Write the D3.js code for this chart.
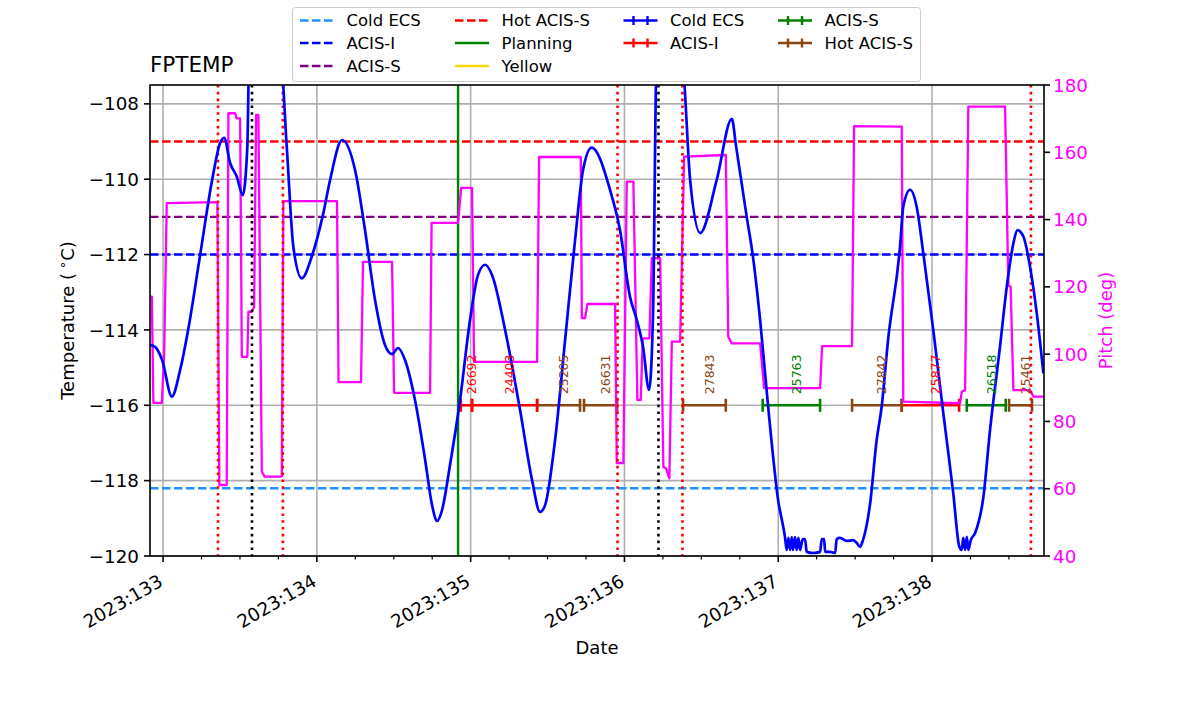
<!DOCTYPE html>
<html>
<head>
<meta charset="utf-8">
<script src="https://cdn.jsdelivr.net/npm/d3@7"></script>
<style>
  body { margin: 0; background: #fff; }
  svg { font-family: "DejaVu Sans", sans-serif; }
</style>
</head>
<body>
<svg width="1200" height="714"></svg>
<script>

// FPTEMP model (day of year 2023, deg C)
const tempTimes = [
    132.915, 132.948, 132.994, 133.057, 133.111, 133.163, 133.241, 133.319, 133.371, 133.397,
    133.436, 133.479, 133.518, 133.548, 133.559, 133.767, 133.804, 133.847, 133.902, 133.967,
    134.042, 134.086, 134.164, 134.248, 134.313, 134.378, 134.443, 134.489, 134.528, 134.573,
    134.638, 134.704, 134.749, 134.782, 134.814, 134.866, 134.931, 134.996, 135.048, 135.094,
    135.139, 135.224, 135.321, 135.399, 135.451, 135.484, 135.549, 135.614, 135.679, 135.731,
    135.787, 135.906, 135.971, 136.036, 136.080, 136.121, 136.160, 136.186, 136.209, 136.375,
    136.427, 136.492, 136.600, 136.698, 136.726, 136.795, 136.834, 136.882, 136.934, 136.999,
    137.044, 137.055, 137.066, 137.077, 137.088, 137.096, 137.109, 137.120, 137.131, 137.142,
    137.159, 137.174, 137.185, 137.226, 137.272, 137.283, 137.298, 137.305, 137.337, 137.370,
    137.380, 137.402, 137.445, 137.486, 137.510, 137.531, 137.551, 137.596, 137.640, 137.673,
    137.714, 137.792, 137.813, 137.857, 137.900, 137.943, 138.008, 138.073, 138.138, 138.177,
    138.193, 138.203, 138.215, 138.226, 138.236, 138.252, 138.280, 138.334, 138.377, 138.442,
    138.486, 138.529, 138.555, 138.594, 138.637, 138.681, 138.724
];
const tempValues = [
    -114.40, -114.45, -114.80, -115.77, -115.06, -114.00, -112.01, -110.02, -109.04, -108.90,
    -109.57, -109.93, -110.42, -109.13, -107.00, -107.00, -109.13, -111.79, -112.63, -112.05,
    -110.90, -110.02, -108.96, -109.75, -111.35, -113.20, -114.40, -114.64, -114.48, -114.80,
    -115.86, -117.45, -118.65, -119.07, -118.78, -117.58, -115.86, -113.73, -112.54, -112.27,
    -112.54, -114.00, -116.12, -117.98, -118.83, -118.65, -116.92, -114.27, -111.61, -109.75,
    -109.16, -110.28, -111.35, -113.12, -113.73, -114.45, -115.59, -113.55, -107.00, -107.00,
    -110.02, -111.43, -110.02, -108.40, -109.13, -111.00, -112.01, -113.73, -116.02, -118.51,
    -119.50, -119.84, -119.52, -119.84, -119.50, -119.84, -119.50, -119.84, -119.52, -119.84,
    -119.55, -119.55, -119.89, -119.92, -119.89, -119.55, -119.55, -119.89, -119.89, -119.92,
    -119.55, -119.52, -119.60, -119.58, -119.65, -119.76, -119.58, -118.65, -116.92, -116.02,
    -114.27, -111.79, -110.73, -110.28, -110.73, -111.96, -114.00, -116.20, -118.33, -119.75,
    -119.84, -119.52, -119.84, -119.49, -119.84, -119.58, -119.39, -118.43, -116.66, -114.44,
    -112.85, -111.70, -111.35, -111.52, -112.32, -113.56, -115.15
];

// pitch (deg)
const pitchTimes = [
    132.915, 132.927, 132.937, 132.992, 133.007, 133.024, 133.353, 133.366, 133.414, 133.425,
    133.468, 133.479, 133.501, 133.512, 133.548, 133.555, 133.577, 133.592, 133.605, 133.620,
    133.642, 133.660, 133.772, 133.782, 134.131, 134.141, 134.287, 134.300, 134.489, 134.502,
    134.736, 134.746, 134.918, 134.938, 135.009, 135.022, 135.432, 135.445, 135.716, 135.723,
    135.744, 135.759, 135.939, 135.950, 135.993, 136.015, 136.058, 136.084, 136.106, 136.119,
    136.162, 136.178, 136.232, 136.253, 136.271, 136.292, 136.308, 136.362, 136.388, 136.659,
    136.675, 136.698, 136.882, 136.908, 137.272, 137.285, 137.480, 137.493, 137.803, 137.813,
    138.182, 138.193, 138.215, 138.236, 138.475, 138.496, 138.511, 138.529, 138.637, 138.659,
    138.728
];
const pitchValues = [
    117.1, 117.1, 85.5, 85.5, 100.0, 144.9, 145.2, 61.1, 61.1, 171.6,
    171.6, 170.1, 170.1, 99.2, 99.2, 112.6, 112.6, 114.0, 171.1, 171.1,
    65.1, 63.6, 63.6, 145.5, 145.5, 91.7, 91.7, 127.4, 127.4, 88.5,
    88.5, 139.0, 139.0, 149.4, 149.4, 97.7, 97.7, 158.6, 158.6, 110.7,
    110.7, 114.9, 114.9, 67.6, 67.6, 151.3, 151.3, 86.4, 86.4, 104.7,
    104.7, 128.5, 128.5, 66.5, 66.0, 63.1, 103.7, 103.7, 158.7, 159.2,
    105.2, 103.2, 103.2, 89.9, 89.9, 102.4, 102.4, 167.8, 167.6, 85.9,
    85.4, 88.8, 89.3, 173.6, 173.6, 120.6, 120.0, 89.3, 89.3, 87.4,
    87.4
];

// limit lines
const limitNames = ['Cold ECS', 'ACIS-I', 'ACIS-S', 'Hot ACIS-S'];
const limitValues = [-118.2, -112, -111, -109];
const limitColors = ['dodgerblue', 'blue', 'purple', 'red'];
const planningLimit = 134.918;

// vertical markers
const radZoneTimes = [133.357, 133.779, 135.955, 136.377, 138.643];
const perigeeTimes = [133.578, 136.221];

// obsids along -116
const obsidLabels = ['26692', '24403', '25205', '26631', '27843', '25763', '27842', '25877', '26518', '25461'];
const obsidStart = [134.936, 135.009, 135.432, 135.737, 136.381, 136.899, 137.480, 137.803, 138.226, 138.501];
const obsidStop  = [135.009, 135.432, 135.711, 135.952, 136.659, 137.272, 137.803, 138.176, 138.479, 138.650];
const obsidKind  = ['ACIS-I', 'ACIS-I', 'Hot ACIS-S', 'Hot ACIS-S', 'Hot ACIS-S', 'ACIS-S', 'Hot ACIS-S', 'ACIS-I', 'ACIS-S', 'Hot ACIS-S'];
const obsidLevel = -116;

const kindColor = {'Cold ECS': 'blue', 'ACIS-I': 'red', 'ACIS-S': 'green', 'Hot ACIS-S': 'saddlebrown'};

const days = [133, 134, 135, 136, 137, 138];
const tempTicks = [-120, -118, -116, -114, -112, -110, -108];
const pitchTicks = [40, 60, 80, 100, 120, 140, 160, 180];

const svg = d3.select('svg');
const L = 150, R = 1044, T = 85, B = 556;

const x = d3.scaleLinear().domain([132.915, 138.728]).range([L, R]);
const y = d3.scaleLinear().domain([-120, -107.5]).range([B, T]);
const y2 = d3.scaleLinear().domain([40, 180]).range([B, T]);

svg.append('clipPath').attr('id', 'plot')
    .append('rect').attr('x', L).attr('y', T).attr('width', R - L).attr('height', B - T);

// grid
const grid = svg.append('g').attr('stroke', '#b0b0b0').attr('stroke-width', 1.6);
grid.selectAll('.gx').data(days).enter().append('line')
    .attr('x1', d => x(d)).attr('x2', d => x(d)).attr('y1', T).attr('y2', B);
grid.selectAll('.gy').data(tempTicks).enter().append('line')
    .attr('x1', L).attr('x2', R).attr('y1', d => y(d)).attr('y2', d => y(d));

const plot = svg.append('g').attr('clip-path', 'url(#plot)');

// limit lines
plot.selectAll('.lim').data(limitValues).enter().append('line')
    .attr('x1', L).attr('x2', R)
    .attr('y1', d => y(d)).attr('y2', d => y(d))
    .attr('stroke', (d, i) => limitColors[i])
    .attr('stroke-width', 2.4)
    .attr('stroke-dasharray', '8.5,3.5');

plot.append('line')
    .attr('x1', x(planningLimit)).attr('x2', x(planningLimit)).attr('y1', T).attr('y2', B)
    .attr('stroke', 'green').attr('stroke-width', 2.4);

// obsid bars
const obs = plot.append('g').attr('stroke-width', 2.6);
obs.selectAll('.bar').data(obsidStart).enter().append('line')
    .attr('x1', d => x(d)).attr('x2', (d, i) => x(obsidStop[i]))
    .attr('y1', y(obsidLevel)).attr('y2', y(obsidLevel))
    .attr('stroke', (d, i) => kindColor[obsidKind[i]]);
obs.selectAll('.cap0').data(obsidStart).enter().append('line')
    .attr('x1', d => x(d)).attr('x2', d => x(d))
    .attr('y1', y(obsidLevel) - 6.5).attr('y2', y(obsidLevel) + 6.5)
    .attr('stroke', (d, i) => kindColor[obsidKind[i]]);
obs.selectAll('.cap1').data(obsidStop).enter().append('line')
    .attr('x1', d => x(d)).attr('x2', d => x(d))
    .attr('y1', y(obsidLevel) - 6.5).attr('y2', y(obsidLevel) + 6.5)
    .attr('stroke', (d, i) => kindColor[obsidKind[i]]);

// pitch
const pitchLine = d3.line()
    .x((d, i) => x(pitchTimes[i]))
    .y(d => y2(d));
plot.append('path')
    .attr('d', pitchLine(pitchValues))
    .attr('fill', 'none').attr('stroke', 'magenta').attr('stroke-width', 2.3)
    .attr('stroke-linejoin', 'round');

// rad zone / perigee markers
plot.selectAll('.rz').data(radZoneTimes).enter().append('line')
    .attr('x1', d => x(d)).attr('x2', d => x(d)).attr('y1', T).attr('y2', B)
    .attr('stroke', 'red').attr('stroke-width', 2.6).attr('stroke-dasharray', '2.6,4.2');
plot.selectAll('.pg').data(perigeeTimes).enter().append('line')
    .attr('x1', d => x(d)).attr('x2', d => x(d)).attr('y1', T).attr('y2', B)
    .attr('stroke', 'black').attr('stroke-width', 2.6).attr('stroke-dasharray', '2.6,4.2');

// temperature
const tempLine = d3.line()
    .x((d, i) => x(tempTimes[i]))
    .y(d => y(d))
    .curve(d3.curveMonotoneX);
plot.append('path')
    .attr('d', tempLine(tempValues))
    .attr('fill', 'none').attr('stroke', 'blue').attr('stroke-width', 2.7)
    .attr('stroke-linejoin', 'round');

// obsid labels
plot.selectAll('.olab').data(obsidLabels).enter().append('text')
    .attr('transform', (d, i) => {
        const mid = (x(obsidStart[i]) + x(obsidStop[i])) / 2;
        return `translate(${mid + 9.5},${y(obsidLevel) - 11}) rotate(-90)`;
    })
    .attr('font-size', 12.5)
    .attr('fill', (d, i) => kindColor[obsidKind[i]])
    .text(d => d);

// axes frame
svg.append('rect').attr('x', L).attr('y', T).attr('width', R - L).attr('height', B - T)
    .attr('fill', 'none').attr('stroke', 'black').attr('stroke-width', 1.6);

// x axis
const xg = svg.append('g');
xg.selectAll('.tk').data(days).enter().append('line')
    .attr('x1', d => x(d)).attr('x2', d => x(d)).attr('y1', B).attr('y2', B + 6)
    .attr('stroke', 'black').attr('stroke-width', 1.6);
const minor = d3.range(132.75, 139, 0.25).filter(d => d > x.domain()[0] && d < x.domain()[1] && d % 1 !== 0);
xg.selectAll('.mk').data(minor).enter().append('line')
    .attr('x1', d => x(d)).attr('x2', d => x(d)).attr('y1', B).attr('y2', B + 3.5)
    .attr('stroke', 'black').attr('stroke-width', 1.2);
xg.selectAll('.tl').data(days).enter().append('text')
    .attr('transform', d => `translate(${x(d) + 1},${B + 29}) rotate(-30)`)
    .attr('text-anchor', 'end')
    .attr('font-size', 18.3)
    .text(d => '2023:' + d);
svg.append('text')
    .attr('x', (L + R) / 2).attr('y', 654)
    .attr('text-anchor', 'middle').attr('font-size', 18)
    .text('Date');

// left axis
const fmt = d3.format('d');
const yl = svg.append('g');
yl.selectAll('.tk').data(tempTicks).enter().append('line')
    .attr('x1', L - 6).attr('x2', L).attr('y1', d => y(d)).attr('y2', d => y(d))
    .attr('stroke', 'black').attr('stroke-width', 1.6);
yl.selectAll('.tl').data(tempTicks).enter().append('text')
    .attr('x', L - 11).attr('y', d => y(d))
    .attr('dy', '0.36em').attr('text-anchor', 'end').attr('font-size', 18.3)
    .text(d => fmt(d));
const ylab = svg.append('text')
    .attr('transform', `translate(74,${(T + B) / 2}) rotate(-90)`)
    .attr('text-anchor', 'middle').attr('font-size', 18);
ylab.append('tspan').text('Temperature (');
ylab.append('tspan').attr('font-size', 13).attr('dy', -7).text(' ∘');
ylab.append('tspan').attr('dy', 7).text('C)');

// right axis
const yr = svg.append('g');
yr.selectAll('.tk').data(pitchTicks).enter().append('line')
    .attr('x1', R).attr('x2', R + 6).attr('y1', d => y2(d)).attr('y2', d => y2(d))
    .attr('stroke', 'black').attr('stroke-width', 1.6);
yr.selectAll('.tl').data(pitchTicks).enter().append('text')
    .attr('x', R + 9).attr('y', d => y2(d))
    .attr('dy', '0.36em').attr('font-size', 18.3).attr('fill', 'magenta')
    .text(d => d);
svg.append('text')
    .attr('transform', `translate(1112,${(T + B) / 2}) rotate(-90)`)
    .attr('text-anchor', 'middle').attr('font-size', 18).attr('fill', 'magenta')
    .text('Pitch (deg)');

// title
svg.append('text').attr('x', L).attr('y', 72).attr('font-size', 21.5).text('FPTEMP');

// legend
const legendItems = [
    {label: 'Cold ECS', color: 'dodgerblue', type: 'dash', col: 0, row: 0},
    {label: 'ACIS-I', color: 'blue', type: 'dash', col: 0, row: 1},
    {label: 'ACIS-S', color: 'purple', type: 'dash', col: 0, row: 2},
    {label: 'Hot ACIS-S', color: 'red', type: 'dash', col: 1, row: 0},
    {label: 'Planning', color: 'green', type: 'solid', col: 1, row: 1},
    {label: 'Yellow', color: 'gold', type: 'solid', col: 1, row: 2},
    {label: 'Cold ECS', color: 'blue', type: 'err', col: 2, row: 0},
    {label: 'ACIS-I', color: 'red', type: 'err', col: 2, row: 1},
    {label: 'ACIS-S', color: 'green', type: 'err', col: 3, row: 0},
    {label: 'Hot ACIS-S', color: 'saddlebrown', type: 'err', col: 3, row: 1}
];
const colX = [300, 455, 623.5, 778];
const rowY = [20.5, 43, 66];

const lg = svg.append('g');
lg.append('rect').attr('x', 292.5).attr('y', 7.5).attr('width', 628).attr('height', 74)
    .attr('rx', 3).attr('fill', 'white').attr('fill-opacity', 0.85)
    .attr('stroke', '#cccccc').attr('stroke-width', 1);

const items = lg.selectAll('.item').data(legendItems).enter().append('g')
    .attr('transform', d => `translate(${colX[d.col]},${rowY[d.row]})`);
items.append('line')
    .attr('x1', 0).attr('x2', 34).attr('y1', 0).attr('y2', 0)
    .attr('stroke', d => d.color).attr('stroke-width', 2.4)
    .attr('stroke-dasharray', d => d.type === 'dash' ? '8.5,3.5' : null);
items.filter(d => d.type === 'err').each(function(d) {
    d3.select(this).selectAll('.cap').data([10, 24]).enter().append('line')
        .attr('x1', c => c).attr('x2', c => c).attr('y1', -4.5).attr('y2', 4.5)
        .attr('stroke', d.color).attr('stroke-width', 2.4);
});
items.append('text')
    .attr('x', 46.5).attr('y', 0).attr('dy', '0.36em')
    .attr('font-size', 16.5)
    .text(d => d.label);

</script>
</body>
</html>
